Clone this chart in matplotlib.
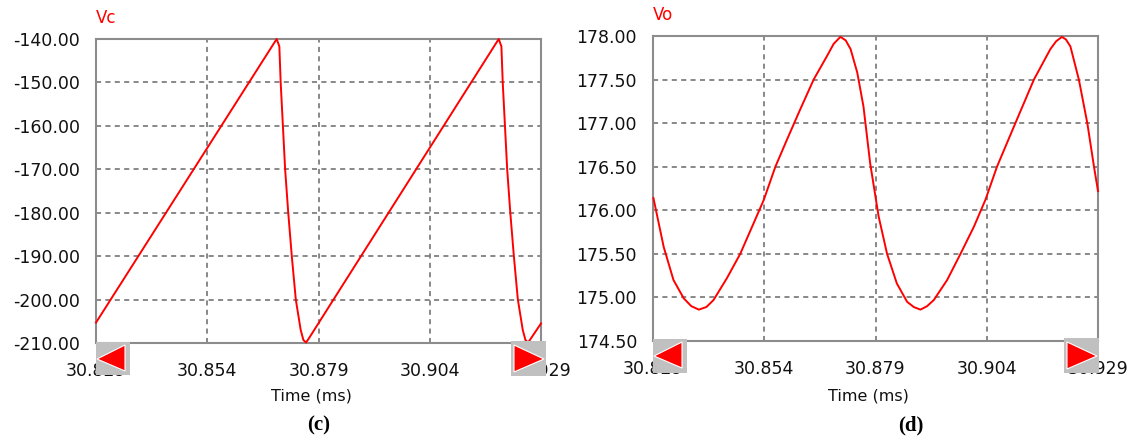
# Simulation scope view : capacitor voltage Vc (c) and output voltage Vo (d)
import matplotlib
matplotlib.use('Agg')
import matplotlib.pyplot as plt
from matplotlib.patches import Rectangle, Polygon

# Data (time in ms)
vc_time = [30.8290, 30.8696, 30.8702, 30.8705, 30.8710, 30.8715, 30.8722, 30.8730,
           30.8739, 30.8750, 30.8756, 30.8762, 30.8768,
           30.9195, 30.9201, 30.9204, 30.9209, 30.9214, 30.9221, 30.9229,
           30.9238, 30.9249, 30.9255, 30.9261, 30.9267, 30.9290]
vc_volts = [-205.3, -140.0, -141.7, -150.0, -160.0, -170.0, -180.0, -190.0,
            -200.0, -207.0, -209.3, -209.9, -209.0,
            -140.0, -141.7, -150.0, -160.0, -170.0, -180.0, -190.0,
            -200.0, -207.0, -209.3, -209.9, -209.0, -205.5]

vo_time = [30.8291, 30.8314, 30.8336, 30.8359, 30.8376, 30.8393, 30.8410, 30.8426,
           30.8456, 30.8486, 30.8516, 30.8539, 30.8565, 30.8591, 30.8621, 30.8651,
           30.8681, 30.8696, 30.8711, 30.8723, 30.8734, 30.8749, 30.8763, 30.8778,
           30.8797, 30.8816, 30.8838, 30.8861, 30.8876, 30.8891, 30.8906, 30.8921,
           30.8951, 30.8981, 30.9011, 30.9037, 30.9063, 30.9101, 30.9146, 30.9183,
           30.9196, 30.9209, 30.9218, 30.9228, 30.9247, 30.9266, 30.9281, 30.9290]
vo_volts = [176.14, 175.58, 175.20, 174.99, 174.90, 174.86, 174.89, 174.97,
            175.22, 175.50, 175.85, 176.12, 176.50, 176.81, 177.16, 177.50,
            177.77, 177.91, 177.99, 177.95, 177.85, 177.58, 177.19, 176.54,
            175.93, 175.50, 175.16, 174.95, 174.89, 174.86, 174.90, 174.97,
            175.20, 175.50, 175.81, 176.12, 176.50, 176.96, 177.50, 177.85,
            177.94, 177.99, 177.96, 177.88, 177.50, 177.00, 176.50, 176.22]

x_ticks = [30.829, 30.854, 30.879, 30.904, 30.929]
x_labels = ['30.829', '30.854', '30.879', '30.904', '30.929']
vc_ticks = [-140, -150, -160, -170, -180, -190, -200, -210]
vo_ticks = [178.0, 177.5, 177.0, 176.5, 176.0, 175.5, 175.0, 174.5]

W, H = 1136, 438
fig = plt.figure(figsize=(W / 100, H / 100), dpi=100)
fig.patch.set_facecolor('white')


def px_box(x0, y0, x1, y1):
    # pixel box (top-left origin) -> figure fraction rect
    return [x0 / W, 1 - y1 / H, (x1 - x0) / W, (y1 - y0) / H]


def scope_axes(rect, t, v, yticks, title):
    ax = fig.add_axes(rect)
    ax.plot(t, v, color='#ff0000', lw=1.4, clip_on=False, zorder=3)
    ax.set_xlim(x_ticks[0], x_ticks[-1])
    ax.set_ylim(min(yticks), max(yticks))
    ax.set_xticks(x_ticks)
    ax.set_xticklabels(x_labels)
    ax.set_yticks(yticks)
    ax.set_yticklabels(['%.2f' % y for y in yticks])
    ax.tick_params(length=0, labelsize=12.5, colors='#111111')
    ax.tick_params(axis='y', pad=11.5)
    ax.tick_params(axis='x', pad=14)
    ax.grid(True, color='#7f7f7f', lw=1.3, linestyle=(0, (2.8, 2.4)))
    for s in ax.spines.values():
        s.set_color('#8c8c8c')
        s.set_linewidth(1.5)
    ax.text(0.0, 1.04, title, transform=ax.transAxes, color='#ff0000',
            fontsize=12, ha='left', va='bottom')
    return ax


ax_c = scope_axes(px_box(96, 39, 541, 343), vc_time, vc_volts, vc_ticks, 'Vc')
ax_d = scope_axes(px_box(653, 36, 1098, 341), vo_time, vo_volts, vo_ticks, 'Vo')


# gray slider boxes with red arrows covering the end tick labels
def slider(x0, y0, x1, y1, tri):
    fig.patches.append(Rectangle((x0 / W, 1 - y1 / H), (x1 - x0) / W, (y1 - y0) / H,
                                 transform=fig.transFigure, facecolor='#c0c0c0',
                                 edgecolor='none', zorder=5))
    pts = [(px / W, 1 - py / H) for px, py in tri]
    fig.patches.append(Polygon(pts, closed=True, transform=fig.transFigure,
                               facecolor='#ff0000', edgecolor='white', lw=0.8, zorder=6))


slider(96, 342, 130, 375, [(97, 359), (125, 345), (125, 371)])
slider(511, 341, 546, 376, [(544, 359), (514, 345), (514, 372)])
slider(653, 339, 687, 373, [(654, 356), (682, 342), (682, 368)])
slider(1064, 338, 1099, 373, [(1097, 356), (1067, 342), (1067, 369)])

# axis titles and panel letters
fig.text(311 / W, 1 - 396 / H, 'Time (ms)', fontsize=11.5, ha='center', va='center',
         color='#111111')
fig.text(868 / W, 1 - 396 / H, 'Time (ms)', fontsize=11.5, ha='center', va='center',
         color='#111111')
fig.text(319 / W, 1 - 425 / H, '(c)', fontsize=15, fontweight='bold',
         family='Liberation Serif', ha='center', va='center')
fig.text(911 / W, 1 - 425 / H, '(d)', fontsize=15, fontweight='bold',
         family='Liberation Serif', ha='center', va='center')

fig.savefig('out.png', dpi=100)
